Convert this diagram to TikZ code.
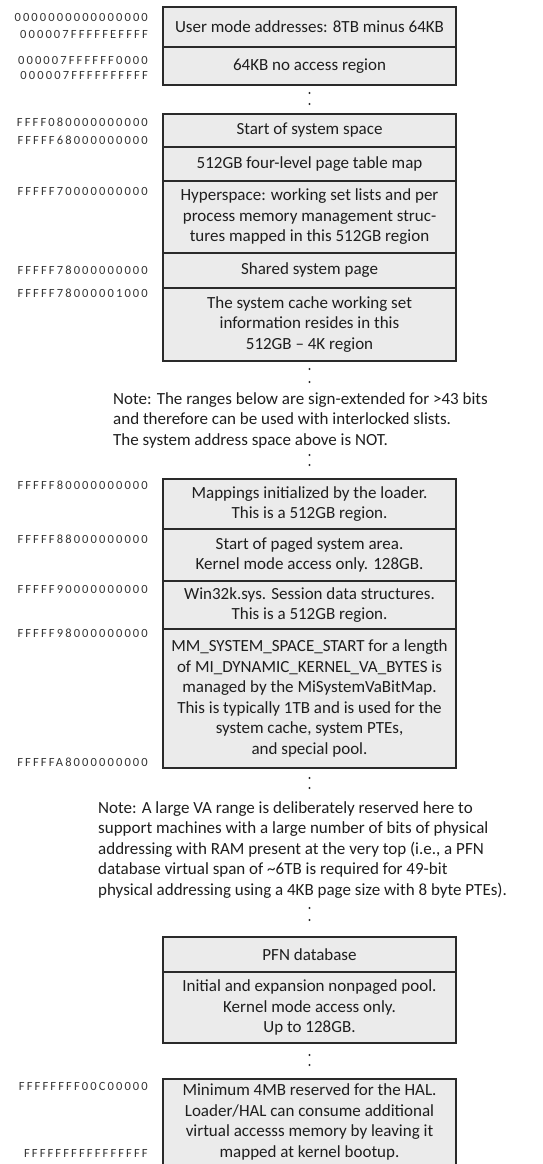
\documentclass[tikz,border=0pt]{standalone}
\usepackage{fontspec}
\setmainfont{Carlito}
\newfontfamily\addrfam[LetterSpace=17]{Carlito}
\usetikzlibrary{positioning}

\definecolor{boxfill}{HTML}{EBEBEB}
\definecolor{boxline}{HTML}{2A2A2A}
\definecolor{textc}{HTML}{1E1E1E}
\definecolor{addrc}{HTML}{333333}
\newcommand{\boxfont}{\fontsize{17}{20.5}\selectfont}
\newcommand{\addrfont}{\addrfam\fontsize{12.5}{14}\selectfont}

\tikzset{
  region/.style={draw=boxline, fill=boxfill, line width=1.2pt, minimum width=293pt,
    outer sep=0pt, inner sep=0pt, align=center, font=\boxfont, text=textc},
  addr/.style={anchor=east, font=\addrfont, text=addrc, inner sep=0pt},
  note/.style={anchor=north west, align=left, font=\boxfont, text=textc, inner sep=0pt},
}

\begin{document}
\begin{tikzpicture}[x=1pt, y=-1pt]
    \path[use as bounding box, clip] (0,0) rectangle (543,1164);
    % User space
    \node[region, minimum height=40pt, anchor=north] (user) at (309.5,7) {User mode addresses: 8TB minus 64KB};
    \node[region, minimum height=38pt, below=0pt of user] (noaccess) {64KB no access region};
    % System space
    \node[region, minimum height=33pt, anchor=north] (sysstart) at (309.5,114) {Start of system space};
    \node[region, minimum height=34pt, below=0pt of sysstart] (ptmap) {512GB four-level page table map};
    \node[region, minimum height=72pt, below=0pt of ptmap] (hyper) {Hyperspace: working set lists and per\\process memory management struc-\\tures mapped in this 512GB region};
    \node[region, minimum height=35pt, below=0pt of hyper] (shared) {Shared system page};
    \node[region, minimum height=73pt, below=0pt of shared] (cache) {The system cache working set\\information resides in this\\512GB -- 4K region};
    % First note
    \node[note] (note1) at (113,392) {Note: The ranges below are sign-extended for >43 bits\\and therefore can be used with interlocked slists.\\The system address space above is NOT.};
    % Sign-extended ranges
    \node[region, minimum height=50pt, anchor=north] (loader) at (309.5,479) {Mappings initialized by the loader.\\This is a 512GB region.};
    \node[region, minimum height=52pt, below=0pt of loader] (paged) {Start of paged system area.\\Kernel mode access only. 128GB.};
    \node[region, minimum height=48pt, below=0pt of paged] (session) {Win32k.sys. Session data structures.\\This is a 512GB region.};
    \node[region, minimum height=139pt, below=0pt of session] (dynva) {MM\_SYSTEM\_SPACE\_START for a length\\of MI\_DYNAMIC\_KERNEL\_VA\_BYTES is\\managed by the MiSystemVaBitMap.\\This is typically 1TB and is used for the\\system cache, system PTEs,\\and special pool.};
    % Second note
    \node[note] (note2) at (98,801) {Note: A large VA range is deliberately reserved here to\\support machines with a large number of bits of physical\\addressing with RAM present at the very top (i.e., a PFN\\database virtual span of \textasciitilde 6TB is required for 49-bit\\physical addressing using a 4KB page size with 8 byte PTEs).};
    % PFN database and pools
    \node[region, minimum height=35pt, anchor=north] (pfn) at (309.5,937) {PFN database};
    \node[region, minimum height=71pt, below=0pt of pfn] (nonpaged) {Initial and expansion nonpaged pool.\\Kernel mode access only.\\Up to 128GB.};
    \node[region, minimum height=86pt, anchor=north] (hal) at (309.5,1079) {Minimum 4MB reserved for the HAL.\\Loader/HAL can consume additional\\virtual accesss memory by leaving it\\mapped at kernel bootup.};
    % Ellipsis dots
    \foreach \y in {93,104,369,382,455,465,778,788,908,920,1055,1065}
        \fill[boxline] (309.5,\y) circle (1.1pt);
    % Addresses
    \foreach \y/\a in {17/0000000000000000, 34/000007FFFFFEFFFF, 60/000007FFFFFF0000,
        75/000007FFFFFFFFFF, 122/FFFF080000000000, 140/FFFFF68000000000,
        191/FFFFF70000000000, 270/FFFFF78000000000, 293/FFFFF78000001000,
        485/FFFFF80000000000, 539/FFFFF88000000000, 589/FFFFF90000000000,
        633/FFFFF98000000000, 762/FFFFFA8000000000, 1086/FFFFFFFF00C00000,
        1153/FFFFFFFFFFFFFFFF}
        \node[addr] (addr\y) at (148,\y) {\a};
\end{tikzpicture}
\end{document}
